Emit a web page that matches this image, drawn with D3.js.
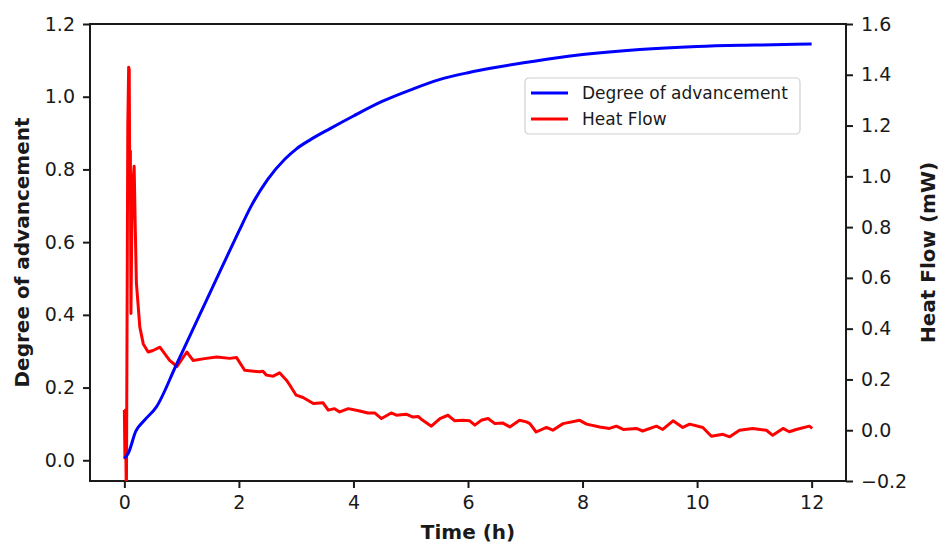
<!DOCTYPE html>
<html lang="en">
<head>
<meta charset="UTF-8">
<title>Degree of advancement and Heat Flow</title>
<script src="https://d3js.org/d3.v7.min.js"></script>
<style>
  body { margin: 0; background: #fff; }
  text { font-family: "DejaVu Sans", sans-serif; fill: #1a1a1a; }
  .axis path, .axis line { stroke: #1a1a1a; stroke-width: 2; }
  .axis text { font-size: 19px; }
  .title { font-size: 20px; font-weight: bold; }
  .legend text { font-size: 17px; }
</style>
</head>
<body>
<svg id="chart" width="941" height="543"></svg>
<script>
// Degree of advancement (left axis)
const degTime = [0, 0.07, 0.2, 0.35, 0.56, 0.9, 1.3, 1.7, 2.0, 2.2, 2.5, 2.8, 3.0, 3.25, 3.6, 4.0, 4.5,
  5.0, 5.5, 6.0, 6.5, 7.0, 7.5, 8.0, 9.0, 10.0, 11.0, 12.0];
const degValues = [0.005, 0.02, 0.08, 0.11, 0.147, 0.26, 0.395, 0.53, 0.63, 0.695, 0.772, 0.828, 0.856,
  0.882, 0.913, 0.947, 0.987, 1.019, 1.047, 1.066, 1.081, 1.094, 1.106, 1.116, 1.130, 1.138, 1.142, 1.145];

// Heat flow in mW (right axis)
const heatTime = [0, 0.01, 0.02, 0.035, 0.06, 0.075, 0.085, 0.095, 0.105, 0.115, 0.13, 0.15, 0.171, 0.19,
  0.21, 0.27, 0.33, 0.415, 0.5, 0.62, 0.79, 0.92, 1.09, 1.2, 1.4, 1.61, 1.84, 1.96, 2.1, 2.36, 2.42, 2.48,
  2.6, 2.71, 2.83, 2.89, 3.0, 3.12, 3.3, 3.47, 3.56, 3.67, 3.76, 3.91, 4.11, 4.25, 4.37, 4.49, 4.66, 4.75,
  4.92, 5.04, 5.13, 5.21, 5.36, 5.51, 5.65, 5.77, 5.91, 6.03, 6.12, 6.23, 6.35, 6.47, 6.61, 6.73, 6.9,
  7.02, 7.08, 7.19, 7.37, 7.48, 7.66, 7.95, 8.07, 8.3, 8.47, 8.59, 8.71, 8.94, 9.05, 9.29, 9.4, 9.58,
  9.75, 9.87, 10.1, 10.25, 10.45, 10.57, 10.74, 10.97, 11.21, 11.32, 11.5, 11.61, 11.73, 11.96, 12.01];
const heatValues = [0.08, -0.11, 0.08, -0.3, 1.2, 1.43, 1.42, 0.9, 1.1, 0.46, 0.8, 0.98, 1.04, 0.8,
  0.58, 0.406, 0.34, 0.308, 0.314, 0.327, 0.275, 0.251, 0.308, 0.275, 0.282, 0.288, 0.283, 0.286, 0.236,
  0.23, 0.232, 0.217, 0.213, 0.226, 0.197, 0.177, 0.138, 0.129, 0.105, 0.108, 0.079, 0.085, 0.072, 0.085,
  0.076, 0.068, 0.068, 0.046, 0.068, 0.059, 0.063, 0.052, 0.054, 0.039, 0.016, 0.046, 0.059, 0.037, 0.039,
  0.037, 0.02, 0.039, 0.046, 0.026, 0.028, 0.013, 0.039, 0.033, 0.026, -0.007, 0.011, 0.0, 0.026, 0.039,
  0.024, 0.013, 0.007, 0.016, 0.003, 0.007, -0.003, 0.016, 0.003, 0.037, 0.011, 0.024, 0.011, -0.024,
  -0.016, -0.026, 0.0, 0.007, 0.0, -0.02, 0.007, -0.006, 0.003, 0.016, 0.007];

const xTicks = [0, 2, 4, 6, 8, 10, 12];
const leftTicks = [0.0, 0.2, 0.4, 0.6, 0.8, 1.0, 1.2];
const rightTicks = [-0.2, 0.0, 0.2, 0.4, 0.6, 0.8, 1.0, 1.2, 1.4, 1.6];
const seriesNames = ["Degree of advancement", "Heat Flow"];
const seriesColors = ["#0000ff", "#ff0000"];

const margin = { top: 24, right: 95, bottom: 62, left: 90 };
const width = 941 - margin.left - margin.right,
      height = 543 - margin.top - margin.bottom;

const svg = d3.select("#chart");
const g = svg.append("g").attr("transform", `translate(${margin.left},${margin.top})`);

const x = d3.scaleLinear().domain([-0.6, 12.6]).range([0, width]);
const yLeft = d3.scaleLinear().domain([-0.057, 1.2]).range([height, 0]);
const yRight = d3.scaleLinear().domain([-0.2, 1.6]).range([height, 0]);

g.append("clipPath").attr("id", "clip")
  .append("rect").attr("width", width).attr("height", height);

// frame
g.append("rect")
  .attr("width", width).attr("height", height)
  .attr("fill", "none").attr("stroke", "#1a1a1a").attr("stroke-width", 2);

const fmt = d3.format(".1f");
const minusFmt = d => fmt(d).replace("-", "\u2212");

g.append("g").attr("class", "axis")
  .attr("transform", `translate(0,${height})`)
  .call(d3.axisBottom(x).tickValues(xTicks).tickFormat(d3.format("d")).tickSize(7).tickPadding(8))
  .call(s => s.select(".domain").remove());

g.append("g").attr("class", "axis")
  .call(d3.axisLeft(yLeft).tickValues(leftTicks).tickFormat(fmt).tickSize(7).tickPadding(8))
  .call(s => s.select(".domain").remove());

g.append("g").attr("class", "axis")
  .attr("transform", `translate(${width},0)`)
  .call(d3.axisRight(yRight).tickValues(rightTicks).tickFormat(minusFmt).tickSize(7).tickPadding(8))
  .call(s => s.select(".domain").remove());

// lines
const plot = g.append("g").attr("clip-path", "url(#clip)");

const degLine = d3.line()
  .x((d, i) => x(degTime[i]))
  .y(d => yLeft(d))
  .curve(d3.curveMonotoneX);

const heatLine = d3.line()
  .x((d, i) => x(heatTime[i]))
  .y(d => yRight(d));

plot.append("path")
  .datum(heatValues)
  .attr("d", heatLine)
  .attr("fill", "none").attr("stroke", seriesColors[1]).attr("stroke-width", 3)
  .attr("stroke-linejoin", "round");

plot.append("path")
  .datum(degValues)
  .attr("d", degLine)
  .attr("fill", "none").attr("stroke", seriesColors[0]).attr("stroke-width", 3);

// axis titles
svg.append("text").attr("class", "title")
  .attr("x", margin.left + width / 2).attr("y", 539)
  .attr("text-anchor", "middle").text("Time (h)");

svg.append("text").attr("class", "title")
  .attr("transform", `translate(29,${margin.top + height / 2}) rotate(-90)`)
  .attr("text-anchor", "middle").text("Degree of advancement");

svg.append("text").attr("class", "title")
  .attr("transform", `translate(935,${margin.top + height / 2}) rotate(-90)`)
  .attr("text-anchor", "middle").text("Heat Flow (mW)");

// legend
const legend = svg.append("g").attr("class", "legend").attr("transform", "translate(525,78)");
legend.append("rect")
  .attr("width", 275).attr("height", 56).attr("rx", 4)
  .attr("fill", "#fff").attr("fill-opacity", 0.8)
  .attr("stroke", "#d0d0d0").attr("stroke-width", 1.2);

const items = legend.selectAll(".item")
  .data(seriesNames)
  .enter().append("g")
  .attr("class", "item")
  .attr("transform", (d, i) => `translate(0,${15 + i * 26})`);

items.append("line")
  .attr("x1", 6).attr("x2", 43)
  .attr("stroke", (d, i) => seriesColors[i]).attr("stroke-width", 3);

items.append("text")
  .attr("x", 57).attr("y", 6)
  .text(d => d);
</script>
</body>
</html>
